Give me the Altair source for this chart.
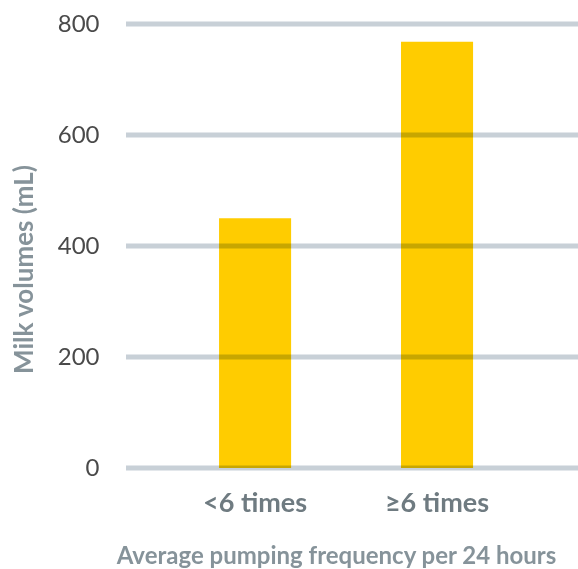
import altair as alt
import pandas as pd

categories = ["<6 times", "≥6 times"]
volumes = [450, 768]
grid_values = [0, 200, 400, 600, 800]

bars_df = pd.DataFrame({"freq": categories, "vol": volumes})
grid_df = pd.DataFrame({"v": grid_values})

FONT = "Lato"

x_enc = alt.X(
    "freq:N",
    sort=categories,
    scale=alt.Scale(paddingInner=0.604, paddingOuter=0.544, align=0.47, round=False),
    axis=alt.Axis(
        title="Average pumping frequency per 24 hours",
        labelAngle=0,
        labelFont=FONT, labelFontSize=27, labelFontWeight="bold", labelColor="#6F7B81",
        labelPadding=22, ticks=False, domain=False, grid=False,
        titleFont=FONT, titleFontSize=24, titleFontWeight="bold", titleColor="#86939A",
        titleX=210, titleY=95, titleAlign="center", titleBaseline="alphabetic",
    ),
)

y_scale = alt.Scale(domain=[0, 800], nice=False)

bars = alt.Chart(bars_df).mark_bar(color="#FFCC00").encode(
    x=x_enc,
    y=alt.Y(
        "vol:Q",
        scale=y_scale,
        axis=alt.Axis(
            title="Milk volumes (mL)",
            values=grid_values,
            labelFont=FONT, labelFontSize=24, labelColor="#4A4A4A",
            labelPadding=27, ticks=False, domain=False, grid=False,
            titleFont=FONT, titleFontSize=26, titleFontWeight="bold", titleColor="#86939A",
            titleAngle=270, titleX=-102, titleY=245, titleAlign="center", titleBaseline="middle",
        ),
    ),
)

grid = alt.Chart(grid_df).mark_rule(
    color="#C8D0D7", strokeWidth=5, blend="multiply"
).encode(
    y=alt.Y("v:Q", scale=y_scale),
)

chart = alt.layer(bars, grid).properties(
    width=452,
    height=444,
    autosize=alt.AutoSizeParams(type="none"),
    padding={"left": 126, "top": 24, "right": 0, "bottom": 101},
).configure_view(stroke=None)

chart.save("out.html", embed_options={"renderer": "svg", "actions": False})
